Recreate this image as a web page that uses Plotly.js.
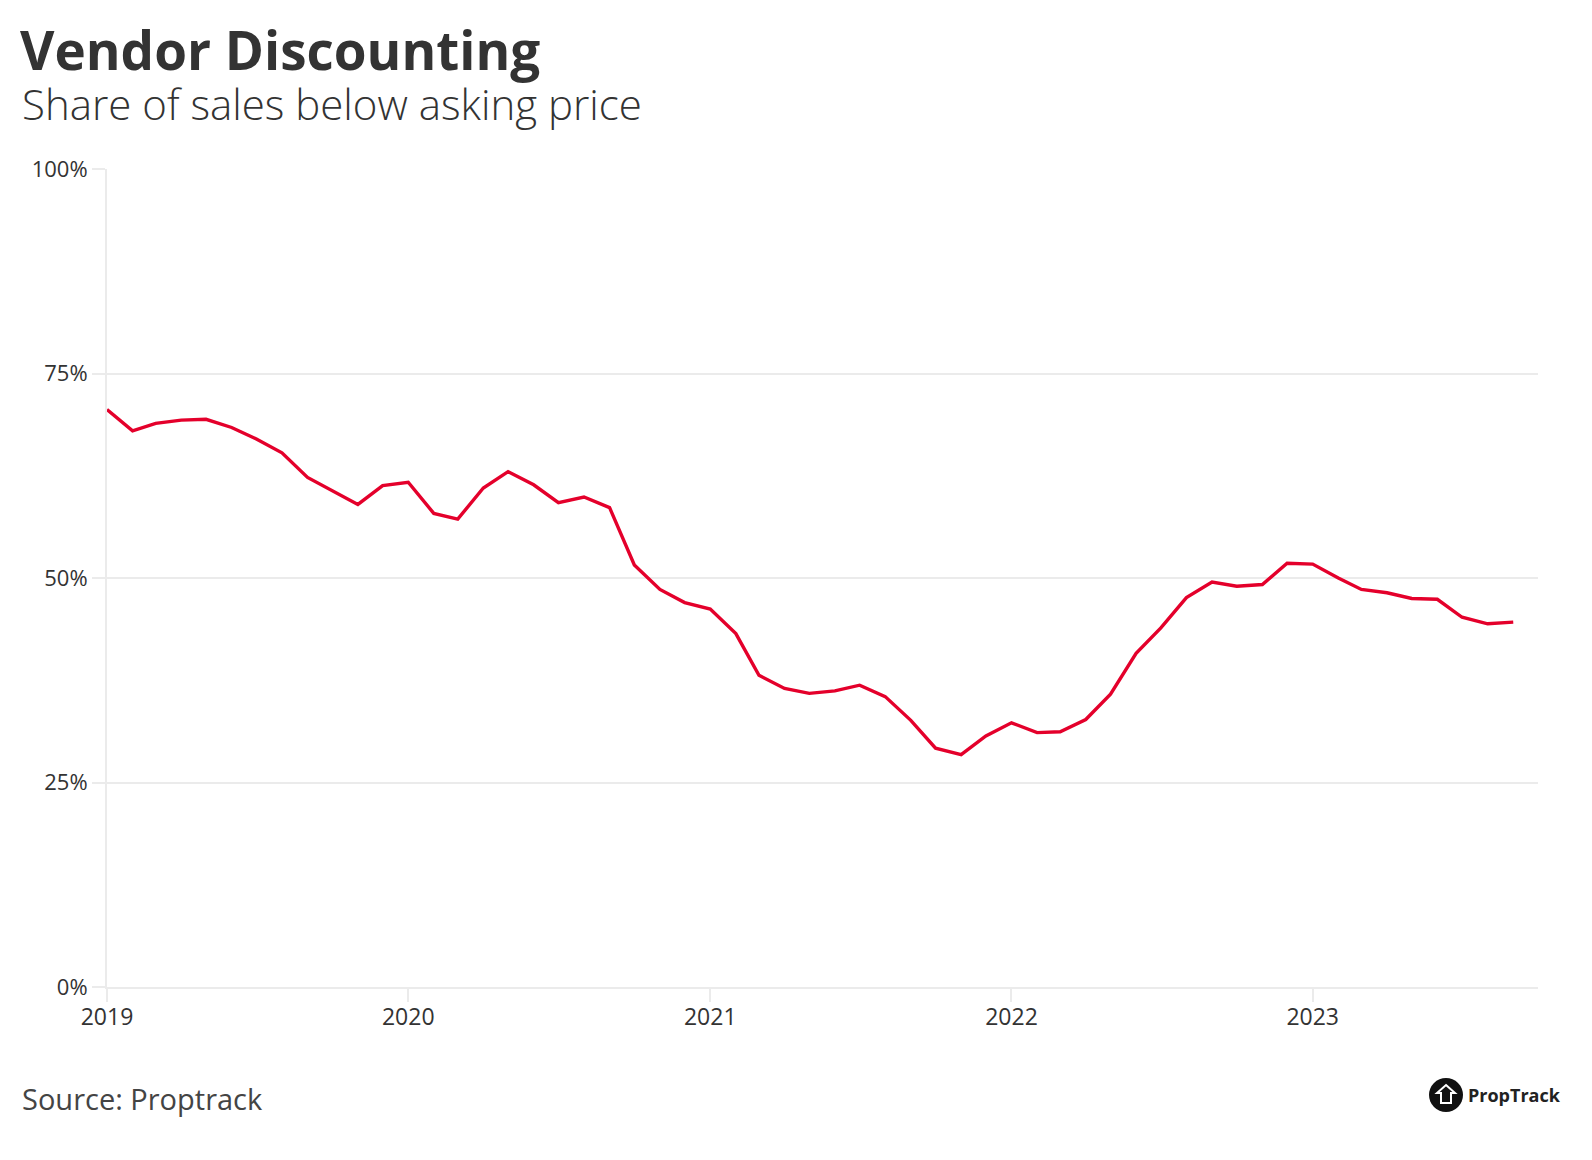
<!DOCTYPE html>
<html>
<head>
<meta charset="utf-8">
<script src="https://cdn.plot.ly/plotly-3.0.1.min.js"></script>
<style>
  html, body { margin: 0; padding: 0; background: #ffffff; }
  #chart { width: 1592px; height: 1160px; }
</style>
</head>
<body>
<div id="chart"></div>
<script>
// ---- Data ----
const months = [
  '2019-01-01','2019-02-01','2019-03-01','2019-04-01','2019-05-01','2019-06-01',
  '2019-07-01','2019-08-01','2019-09-01','2019-10-01','2019-11-01','2019-12-01',
  '2020-01-01','2020-02-01','2020-03-01','2020-04-01','2020-05-01','2020-06-01',
  '2020-07-01','2020-08-01','2020-09-01','2020-10-01','2020-11-01','2020-12-01',
  '2021-01-01','2021-02-01','2021-03-01','2021-04-01','2021-05-01','2021-06-01',
  '2021-07-01','2021-08-01','2021-09-01','2021-10-01','2021-11-01','2021-12-01',
  '2022-01-01','2022-02-01','2022-03-01','2022-04-01','2022-05-01','2022-06-01',
  '2022-07-01','2022-08-01','2022-09-01','2022-10-01','2022-11-01','2022-12-01',
  '2023-01-01','2023-02-01','2023-03-01','2023-04-01','2023-05-01','2023-06-01',
  '2023-07-01','2023-08-01','2023-09-01'
];
const shareBelowAsking = [
  70.6, 68.0, 68.9, 69.3, 69.4, 68.4, 67.0, 65.3, 62.3, 60.7, 59.0, 61.3,
  61.7, 57.9, 57.2, 61.0, 63.0, 61.4, 59.2, 59.9, 58.6, 51.6, 48.6, 47.0,
  46.2, 43.2, 38.1, 36.5, 35.9, 36.2, 36.9, 35.5, 32.6, 29.2, 28.4, 30.7,
  32.3, 31.1, 31.2, 32.7, 35.8, 40.8, 43.9, 47.6, 49.5, 49.0, 49.2, 51.8,
  51.7, 50.0, 48.6, 48.2, 47.5, 47.4, 45.2, 44.4, 44.6
];
const yTickValues = [0, 25, 50, 75, 100];
const yTickLabels = ['0%', '25%', '50%', '75%', '100%'];
const xTickValues = ['2019-01-01','2020-01-01','2021-01-01','2022-01-01','2023-01-01'];
const xTickLabels = ['2019','2020','2021','2022','2023'];
const titleText = 'Vendor Discounting';
const subtitleText = 'Share of sales below asking price';
const sourceText = 'Source: Proptrack';
const brandText = 'PropTrack';

// ---- Layout geometry ----
const W = 1592, H = 1160;
const M = { l: 107, r: 54, t: 169, b: 173 };
const PW = W - M.l - M.r, PH = H - M.t - M.b;
const px = v => (v - M.l) / PW;          // pixel x -> paper x
const py = v => (H - M.b - v) / PH;      // pixel y -> paper y

const FONT = '"Open Sans", "Noto Sans", sans-serif';
const TEXT = '#333333';
const GRID = '#ebebeb';
const RED = '#e4002b';

const trace = {
  type: 'scatter',
  mode: 'lines',
  x: months,
  y: shareBelowAsking,
  line: { color: RED, width: 3.4 },
  hoverinfo: 'x+y'
};

// logo house icon path (pixel coordinates converted to paper)
const cx = 1446, cy = 1095;
const house = [[cx, cy - 10], [cx + 9, cy - 2], [cx + 5, cy - 2], [cx + 5, cy + 8],
               [cx - 5, cy + 8], [cx - 5, cy - 2], [cx - 9, cy - 2]];
const housePath = 'M' + house.map(p => px(p[0]) + ',' + py(p[1])).join(' L') + ' Z';

const layout = {
  width: W, height: H,
  margin: M,
  paper_bgcolor: '#ffffff',
  plot_bgcolor: '#ffffff',
  showlegend: false,
  font: { family: FONT, color: TEXT },
  title: {
    text: titleText,
    font: { family: FONT, size: 53, weight: 700, color: TEXT },
    xref: 'container', yref: 'container',
    x: 20 / W, xanchor: 'left',
    y: 1 - 51 / H, yanchor: 'middle'
  },
  xaxis: {
    type: 'date',
    range: ['2019-01-01', '2023-10-01'],
    tickvals: xTickValues,
    ticktext: xTickLabels,
    ticks: 'outside', ticklen: 13, tickwidth: 2, tickcolor: GRID,
    ticklabelstandoff: -5,
    showgrid: false,
    showline: true, linecolor: GRID, linewidth: 2,
    zeroline: false,
    tickfont: { family: FONT, size: 23, color: TEXT },
    fixedrange: true
  },
  yaxis: {
    range: [0, 100],
    tickvals: yTickValues,
    ticktext: yTickLabels,
    ticks: 'outside', ticklen: 13, tickwidth: 2, tickcolor: GRID,
    showgrid: true, gridcolor: GRID, gridwidth: 2,
    showline: true, linecolor: GRID, linewidth: 2,
    zeroline: false,
    tickfont: { family: FONT, size: 22, color: TEXT },
    fixedrange: true
  },
  annotations: [
    {
      text: subtitleText, xref: 'paper', yref: 'paper',
      x: px(20), y: py(104), xanchor: 'left', yanchor: 'middle',
      showarrow: false,
      font: { family: FONT, size: 42, weight: 300, color: TEXT }
    },
    {
      text: sourceText, xref: 'paper', yref: 'paper',
      x: px(20), y: py(1098), xanchor: 'left', yanchor: 'middle',
      showarrow: false,
      font: { family: FONT, size: 29, weight: 400, color: '#444444' }
    },
    {
      text: '<b>' + brandText + '</b>', xref: 'paper', yref: 'paper',
      x: px(1466), y: py(1095), xanchor: 'left', yanchor: 'middle',
      showarrow: false,
      font: { family: FONT, size: 18, color: '#222222' }
    }
  ],
  shapes: [
    {
      type: 'circle', xref: 'paper', yref: 'paper',
      x0: px(cx - 17), x1: px(cx + 17), y0: py(cy + 17), y1: py(cy - 17),
      fillcolor: '#111111', line: { width: 0 }
    },
    {
      type: 'path', xref: 'paper', yref: 'paper',
      path: housePath,
      fillcolor: 'rgba(0,0,0,0)', line: { color: '#ffffff', width: 2 }
    }
  ]
};

Plotly.newPlot('chart', [trace], layout, { displayModeBar: false, staticPlot: true });
</script>
</body>
</html>
